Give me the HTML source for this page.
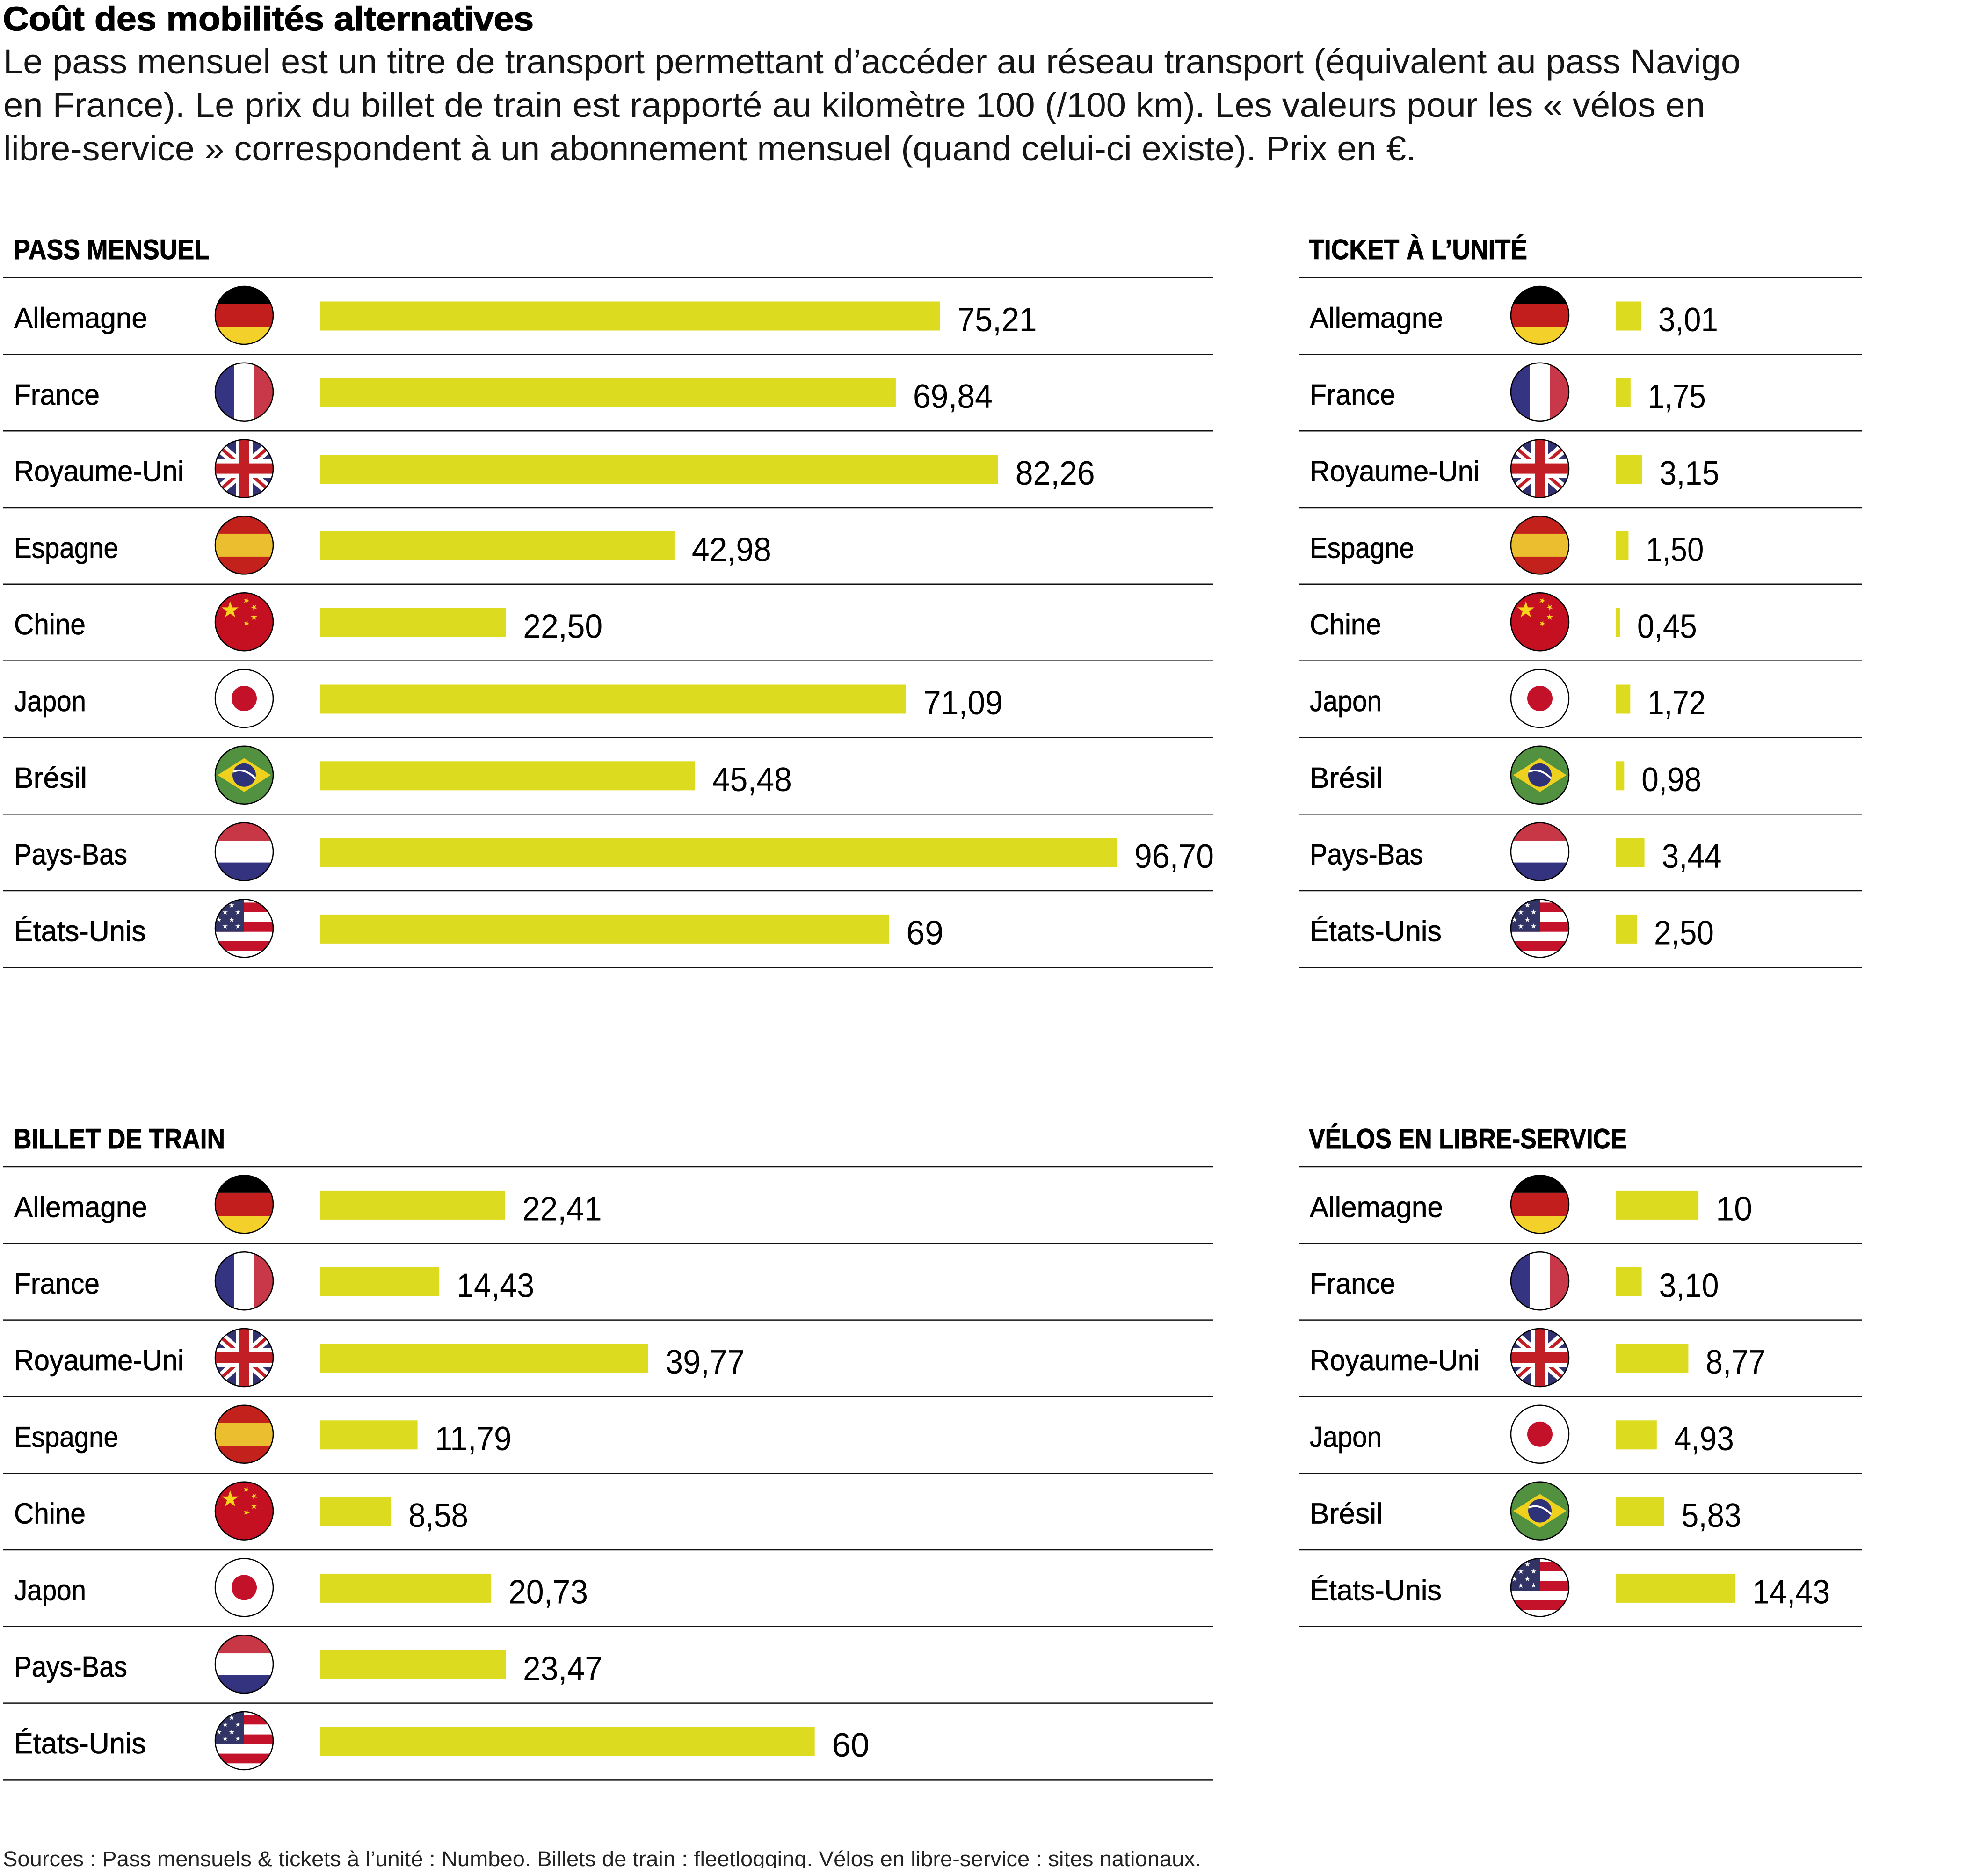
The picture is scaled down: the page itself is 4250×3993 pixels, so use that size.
<!DOCTYPE html>
<html lang="fr">
<head>
<meta charset="utf-8">
<title>Coût des mobilités alternatives</title>
<style>
html,body{margin:0;padding:0;background:#fff;}
svg{display:block;}
.l{font-family:"Liberation Sans",sans-serif;font-size:62px;fill:#000;stroke:#000;stroke-width:0.8;}
.v{font-family:"Liberation Sans",sans-serif;font-size:72px;fill:#000;}
.h{font-family:"Liberation Sans",sans-serif;font-size:60px;font-weight:bold;fill:#000;stroke:#000;stroke-width:1;}
.t{font-family:"Liberation Sans",sans-serif;font-size:72px;font-weight:bold;fill:#000;stroke:#000;stroke-width:1.5;}
.s{font-family:"Liberation Sans",sans-serif;font-size:74px;fill:#151515;}
.src{font-family:"Liberation Sans",sans-serif;font-size:45px;fill:#222;}
.b{fill:#dcdb1f;}
.ln{stroke:#111;stroke-width:2.5;}
</style>
</head>
<body>
<svg xmlns="http://www.w3.org/2000/svg" width="4250" height="3993" viewBox="0 0 4250 3993">
<defs>
  <clipPath id="cc"><circle cx="0" cy="0" r="62"/></clipPath>
  <path id="st" d="M0,-1L0.2245,-0.309L0.951,-0.309L0.363,0.118L0.588,0.809L0,0.382L-0.588,0.809L-0.363,0.118L-0.951,-0.309L-0.2245,-0.309Z"/>
  <g id="de">
    <g clip-path="url(#cc)">
      <rect x="-70" y="-70" width="140" height="45.5" fill="#000"/>
      <rect x="-70" y="-24.5" width="140" height="50" fill="#c21e1d"/>
      <rect x="-70" y="25.5" width="140" height="45" fill="#f4d12a"/>
    </g>
    <circle r="62" fill="none" stroke="#000" stroke-width="2.5"/>
  </g>
  <g id="fr">
    <g clip-path="url(#cc)">
      <rect x="-70" y="-70" width="48" height="140" fill="#343483"/>
      <rect x="-22" y="-70" width="44" height="140" fill="#fff"/>
      <rect x="22" y="-70" width="48" height="140" fill="#c83848"/>
    </g>
    <circle r="62" fill="none" stroke="#000" stroke-width="2.5"/>
  </g>
  <g id="uk">
    <g clip-path="url(#cc)">
      <rect x="-70" y="-70" width="140" height="140" fill="#313171"/>
      <path d="M-75,-66 L75,66 M75,-66 L-75,66" stroke="#fff" stroke-width="22"/>
      <path d="M-75,-66 L75,66 M75,-66 L-75,66" stroke="#c21e25" stroke-width="7"/>
      <rect x="-18" y="-70" width="36" height="140" fill="#fff"/>
      <rect x="-70" y="-20" width="140" height="40" fill="#fff"/>
      <rect x="-10" y="-70" width="20" height="140" fill="#c21e25"/>
      <rect x="-70" y="-11" width="140" height="22" fill="#c21e25"/>
    </g>
    <circle r="62" fill="none" stroke="#000" stroke-width="2.5"/>
  </g>
  <g id="es">
    <g clip-path="url(#cc)">
      <rect x="-70" y="-70" width="140" height="140" fill="#c3211c"/>
      <rect x="-70" y="-24.5" width="140" height="49" fill="#ebbe30"/>
    </g>
    <circle r="62" fill="none" stroke="#000" stroke-width="2.5"/>
  </g>
  <g id="cn">
    <circle r="62" fill="#c41020"/>
    <use href="#st" transform="translate(-30,-25) scale(19)" fill="#f8d41a"/>
    <use href="#st" transform="translate(5,-45) rotate(20) scale(7)" fill="#f8d41a"/>
    <use href="#st" transform="translate(21,-31) rotate(45) scale(7)" fill="#f8d41a"/>
    <use href="#st" transform="translate(21,-10) scale(7)" fill="#f8d41a"/>
    <use href="#st" transform="translate(5,4) rotate(20) scale(7)" fill="#f8d41a"/>
    <circle r="62" fill="none" stroke="#000" stroke-width="2.5"/>
  </g>
  <g id="jp">
    <circle r="62" fill="#fff"/>
    <circle r="27" fill="#c4112a"/>
    <circle r="62" fill="none" stroke="#000" stroke-width="2.5"/>
  </g>
  <g id="br">
    <circle r="62" fill="#51913f"/>
    <polygon points="-57,0 0,-36 57,0 0,36" fill="#eed11e"/>
    <circle r="25" fill="#2e3379"/>
    <path d="M-24,-7 Q0,-17 24,7" stroke="#fff" stroke-width="4" fill="none"/>
    <circle r="62" fill="none" stroke="#000" stroke-width="2.5"/>
  </g>
  <g id="nl">
    <g clip-path="url(#cc)">
      <rect x="-70" y="-70" width="140" height="47" fill="#c83746"/>
      <rect x="-70" y="-23" width="140" height="46" fill="#fff"/>
      <rect x="-70" y="23" width="140" height="47" fill="#33337f"/>
    </g>
    <circle r="62" fill="none" stroke="#000" stroke-width="2.5"/>
  </g>
  <g id="us">
    <g clip-path="url(#cc)">
      <rect x="-70" y="-70" width="140" height="140" fill="#fff"/>
      <rect x="-70" y="-55" width="140" height="20.3" fill="#c3122a"/>
      <rect x="-70" y="-13.4" width="140" height="20.7" fill="#c3122a"/>
      <rect x="-70" y="27.6" width="140" height="20.7" fill="#c3122a"/>
      <rect x="-70" y="-70" width="70" height="77.3" fill="#323466"/>
      <use href="#st" transform="translate(-26.7,-49.3) scale(6)" fill="#fff"/>
      <use href="#st" transform="translate(-40.7,-34.3) scale(6)" fill="#fff"/>
      <use href="#st" transform="translate(-13.3,-34.3) scale(6)" fill="#fff"/>
      <use href="#st" transform="translate(-54,-18.3) scale(6)" fill="#fff"/>
      <use href="#st" transform="translate(-26.7,-18.3) scale(6)" fill="#fff"/>
      <use href="#st" transform="translate(-40.7,-4.3) scale(6)" fill="#fff"/>
      <use href="#st" transform="translate(-13.3,-4.3) scale(6)" fill="#fff"/>
    </g>
    <circle r="62" fill="none" stroke="#000" stroke-width="2.5"/>
  </g>
</defs>

<rect x="0" y="0" width="4250" height="3993" fill="#fff"/>

<!-- Title & subtitle -->
<text class="t" x="6" y="65" textLength="1135" lengthAdjust="spacingAndGlyphs">Coût des mobilités alternatives</text>
<text class="s" x="7" y="157" textLength="3714" lengthAdjust="spacingAndGlyphs">Le pass mensuel est un titre de transport permettant d’accéder au réseau transport (équivalent au pass Navigo</text>
<text class="s" x="7" y="250" textLength="3638" lengthAdjust="spacingAndGlyphs">en France). Le prix du billet de train est rapporté au kilomètre 100 (/100 km). Les valeurs pour les « vélos en</text>
<text class="s" x="7" y="343" textLength="3020" lengthAdjust="spacingAndGlyphs">libre-service » correspondent à un abonnement mensuel (quand celui-ci existe). Prix en €.</text>

<!-- Section headers -->
<text class="h" x="29" y="554" textLength="419" lengthAdjust="spacingAndGlyphs">PASS MENSUEL</text>
<text class="h" x="2798" y="554" textLength="467" lengthAdjust="spacingAndGlyphs">TICKET À L’UNITÉ</text>
<text class="h" x="29" y="2455" textLength="452" lengthAdjust="spacingAndGlyphs">BILLET DE TRAIN</text>
<text class="h" x="2798" y="2455" textLength="680" lengthAdjust="spacingAndGlyphs">VÉLOS EN LIBRE-SERVICE</text>

<!-- Lines -->
<g class="ln">
<line x1="6" x2="2593" y1="593.6" y2="593.6"/>
<line x1="6" x2="2593" y1="757.4" y2="757.4"/>
<line x1="6" x2="2593" y1="921.2" y2="921.2"/>
<line x1="6" x2="2593" y1="1085" y2="1085"/>
<line x1="6" x2="2593" y1="1248.8" y2="1248.8"/>
<line x1="6" x2="2593" y1="1412.6" y2="1412.6"/>
<line x1="6" x2="2593" y1="1576.4" y2="1576.4"/>
<line x1="6" x2="2593" y1="1740.2" y2="1740.2"/>
<line x1="6" x2="2593" y1="1904" y2="1904"/>
<line x1="6" x2="2593" y1="2067.8" y2="2067.8"/>
<line x1="2776" x2="3980" y1="593.6" y2="593.6"/>
<line x1="2776" x2="3980" y1="757.4" y2="757.4"/>
<line x1="2776" x2="3980" y1="921.2" y2="921.2"/>
<line x1="2776" x2="3980" y1="1085" y2="1085"/>
<line x1="2776" x2="3980" y1="1248.8" y2="1248.8"/>
<line x1="2776" x2="3980" y1="1412.6" y2="1412.6"/>
<line x1="2776" x2="3980" y1="1576.4" y2="1576.4"/>
<line x1="2776" x2="3980" y1="1740.2" y2="1740.2"/>
<line x1="2776" x2="3980" y1="1904" y2="1904"/>
<line x1="2776" x2="3980" y1="2067.8" y2="2067.8"/>
<line x1="6" x2="2593" y1="2494" y2="2494"/>
<line x1="6" x2="2593" y1="2657.8" y2="2657.8"/>
<line x1="6" x2="2593" y1="2821.6" y2="2821.6"/>
<line x1="6" x2="2593" y1="2985.4" y2="2985.4"/>
<line x1="6" x2="2593" y1="3149.2" y2="3149.2"/>
<line x1="6" x2="2593" y1="3313" y2="3313"/>
<line x1="6" x2="2593" y1="3476.8" y2="3476.8"/>
<line x1="6" x2="2593" y1="3640.6" y2="3640.6"/>
<line x1="6" x2="2593" y1="3804.4" y2="3804.4"/>
<line x1="2776" x2="3980" y1="2494" y2="2494"/>
<line x1="2776" x2="3980" y1="2657.8" y2="2657.8"/>
<line x1="2776" x2="3980" y1="2821.6" y2="2821.6"/>
<line x1="2776" x2="3980" y1="2985.4" y2="2985.4"/>
<line x1="2776" x2="3980" y1="3149.2" y2="3149.2"/>
<line x1="2776" x2="3980" y1="3313" y2="3313"/>
<line x1="2776" x2="3980" y1="3476.8" y2="3476.8"/>
</g>

<!-- PASS MENSUEL -->
<g transform="translate(0,675.5)"><text class="l" x="30" y="25.5" textLength="285" lengthAdjust="spacingAndGlyphs">Allemagne</text><use href="#de" x="522" y="-1.5"/><rect class="b" x="685" y="-31" width="1324.5" height="62"/><text class="v" x="2046.5" y="32.7" textLength="170" lengthAdjust="spacingAndGlyphs">75,21</text></g>
<g transform="translate(0,839.3)"><text class="l" x="30" y="25.5" textLength="183" lengthAdjust="spacingAndGlyphs">France</text><use href="#fr" x="522" y="-1.5"/><rect class="b" x="685" y="-31" width="1229.9" height="62"/><text class="v" x="1951.9" y="32.7" textLength="170" lengthAdjust="spacingAndGlyphs">69,84</text></g>
<g transform="translate(0,1003.1)"><text class="l" x="30" y="25.5" textLength="363" lengthAdjust="spacingAndGlyphs">Royaume-Uni</text><use href="#uk" x="522" y="-1.5"/><rect class="b" x="685" y="-31" width="1448.7" height="62"/><text class="v" x="2170.7" y="32.7" textLength="170" lengthAdjust="spacingAndGlyphs">82,26</text></g>
<g transform="translate(0,1166.9)"><text class="l" x="30" y="25.5" textLength="223" lengthAdjust="spacingAndGlyphs">Espagne</text><use href="#es" x="522" y="-1.5"/><rect class="b" x="685" y="-31" width="756.9" height="62"/><text class="v" x="1478.9" y="32.7" textLength="170" lengthAdjust="spacingAndGlyphs">42,98</text></g>
<g transform="translate(0,1330.7)"><text class="l" x="30" y="25.5" textLength="153" lengthAdjust="spacingAndGlyphs">Chine</text><use href="#cn" x="522" y="-1.5"/><rect class="b" x="685" y="-31" width="396.2" height="62"/><text class="v" x="1118.2" y="32.7" textLength="170" lengthAdjust="spacingAndGlyphs">22,50</text></g>
<g transform="translate(0,1494.5)"><text class="l" x="30" y="25.5" textLength="154" lengthAdjust="spacingAndGlyphs">Japon</text><use href="#jp" x="522" y="-1.5"/><rect class="b" x="685" y="-31" width="1251.9" height="62"/><text class="v" x="1973.9" y="32.7" textLength="170" lengthAdjust="spacingAndGlyphs">71,09</text></g>
<g transform="translate(0,1658.3)"><text class="l" x="30" y="25.5" textLength="156" lengthAdjust="spacingAndGlyphs">Brésil</text><use href="#br" x="522" y="-1.5"/><rect class="b" x="685" y="-31" width="800.9" height="62"/><text class="v" x="1522.9" y="32.7" textLength="170" lengthAdjust="spacingAndGlyphs">45,48</text></g>
<g transform="translate(0,1822.1)"><text class="l" x="30" y="25.5" textLength="242" lengthAdjust="spacingAndGlyphs">Pays-Bas</text><use href="#nl" x="522" y="-1.5"/><rect class="b" x="685" y="-31" width="1703" height="62"/><text class="v" x="2425" y="32.7" textLength="170" lengthAdjust="spacingAndGlyphs">96,70</text></g>
<g transform="translate(0,1985.9)"><text class="l" x="30" y="25.5" textLength="282" lengthAdjust="spacingAndGlyphs">États-Unis</text><use href="#us" x="522" y="-1.5"/><rect class="b" x="685" y="-31" width="1215.2" height="62"/><text class="v" x="1937.2" y="32.7" textLength="80" lengthAdjust="spacingAndGlyphs">69</text></g>

<!-- TICKET A L'UNITE -->
<g transform="translate(0,675.5)"><text class="l" x="2800" y="25.5" textLength="285" lengthAdjust="spacingAndGlyphs">Allemagne</text><use href="#de" x="3292" y="-1.5"/><rect class="b" x="3455" y="-31" width="53" height="62"/><text class="v" x="3545" y="32.7" textLength="128" lengthAdjust="spacingAndGlyphs">3,01</text></g>
<g transform="translate(0,839.3)"><text class="l" x="2800" y="25.5" textLength="183" lengthAdjust="spacingAndGlyphs">France</text><use href="#fr" x="3292" y="-1.5"/><rect class="b" x="3455" y="-31" width="30.8" height="62"/><text class="v" x="3522.8" y="32.7" textLength="124" lengthAdjust="spacingAndGlyphs">1,75</text></g>
<g transform="translate(0,1003.1)"><text class="l" x="2800" y="25.5" textLength="363" lengthAdjust="spacingAndGlyphs">Royaume-Uni</text><use href="#uk" x="3292" y="-1.5"/><rect class="b" x="3455" y="-31" width="55.5" height="62"/><text class="v" x="3547.5" y="32.7" textLength="128" lengthAdjust="spacingAndGlyphs">3,15</text></g>
<g transform="translate(0,1166.9)"><text class="l" x="2800" y="25.5" textLength="223" lengthAdjust="spacingAndGlyphs">Espagne</text><use href="#es" x="3292" y="-1.5"/><rect class="b" x="3455" y="-31" width="26.4" height="62"/><text class="v" x="3518.4" y="32.7" textLength="124" lengthAdjust="spacingAndGlyphs">1,50</text></g>
<g transform="translate(0,1330.7)"><text class="l" x="2800" y="25.5" textLength="153" lengthAdjust="spacingAndGlyphs">Chine</text><use href="#cn" x="3292" y="-1.5"/><rect class="b" x="3455" y="-31" width="7.9" height="62"/><text class="v" x="3499.9" y="32.7" textLength="128" lengthAdjust="spacingAndGlyphs">0,45</text></g>
<g transform="translate(0,1494.5)"><text class="l" x="2800" y="25.5" textLength="154" lengthAdjust="spacingAndGlyphs">Japon</text><use href="#jp" x="3292" y="-1.5"/><rect class="b" x="3455" y="-31" width="30.3" height="62"/><text class="v" x="3522.3" y="32.7" textLength="124" lengthAdjust="spacingAndGlyphs">1,72</text></g>
<g transform="translate(0,1658.3)"><text class="l" x="2800" y="25.5" textLength="156" lengthAdjust="spacingAndGlyphs">Brésil</text><use href="#br" x="3292" y="-1.5"/><rect class="b" x="3455" y="-31" width="17.3" height="62"/><text class="v" x="3509.3" y="32.7" textLength="128" lengthAdjust="spacingAndGlyphs">0,98</text></g>
<g transform="translate(0,1822.1)"><text class="l" x="2800" y="25.5" textLength="242" lengthAdjust="spacingAndGlyphs">Pays-Bas</text><use href="#nl" x="3292" y="-1.5"/><rect class="b" x="3455" y="-31" width="60.6" height="62"/><text class="v" x="3552.6" y="32.7" textLength="128" lengthAdjust="spacingAndGlyphs">3,44</text></g>
<g transform="translate(0,1985.9)"><text class="l" x="2800" y="25.5" textLength="282" lengthAdjust="spacingAndGlyphs">États-Unis</text><use href="#us" x="3292" y="-1.5"/><rect class="b" x="3455" y="-31" width="44" height="62"/><text class="v" x="3536" y="32.7" textLength="128" lengthAdjust="spacingAndGlyphs">2,50</text></g>

<!-- BILLET DE TRAIN -->
<g transform="translate(0,2575.9)"><text class="l" x="30" y="25.5" textLength="285" lengthAdjust="spacingAndGlyphs">Allemagne</text><use href="#de" x="522" y="-1.5"/><rect class="b" x="685" y="-31" width="394.7" height="62"/><text class="v" x="1116.7" y="32.7" textLength="170" lengthAdjust="spacingAndGlyphs">22,41</text></g>
<g transform="translate(0,2739.7)"><text class="l" x="30" y="25.5" textLength="183" lengthAdjust="spacingAndGlyphs">France</text><use href="#fr" x="522" y="-1.5"/><rect class="b" x="685" y="-31" width="254.1" height="62"/><text class="v" x="976.1" y="32.7" textLength="166" lengthAdjust="spacingAndGlyphs">14,43</text></g>
<g transform="translate(0,2903.5)"><text class="l" x="30" y="25.5" textLength="363" lengthAdjust="spacingAndGlyphs">Royaume-Uni</text><use href="#uk" x="522" y="-1.5"/><rect class="b" x="685" y="-31" width="700.4" height="62"/><text class="v" x="1422.4" y="32.7" textLength="170" lengthAdjust="spacingAndGlyphs">39,77</text></g>
<g transform="translate(0,3067.3)"><text class="l" x="30" y="25.5" textLength="223" lengthAdjust="spacingAndGlyphs">Espagne</text><use href="#es" x="522" y="-1.5"/><rect class="b" x="685" y="-31" width="207.6" height="62"/><text class="v" x="929.6" y="32.7" textLength="164" lengthAdjust="spacingAndGlyphs">11,79</text></g>
<g transform="translate(0,3231.1)"><text class="l" x="30" y="25.5" textLength="153" lengthAdjust="spacingAndGlyphs">Chine</text><use href="#cn" x="522" y="-1.5"/><rect class="b" x="685" y="-31" width="151.1" height="62"/><text class="v" x="873.1" y="32.7" textLength="128" lengthAdjust="spacingAndGlyphs">8,58</text></g>
<g transform="translate(0,3394.9)"><text class="l" x="30" y="25.5" textLength="154" lengthAdjust="spacingAndGlyphs">Japon</text><use href="#jp" x="522" y="-1.5"/><rect class="b" x="685" y="-31" width="365.1" height="62"/><text class="v" x="1087.1" y="32.7" textLength="170" lengthAdjust="spacingAndGlyphs">20,73</text></g>
<g transform="translate(0,3558.7)"><text class="l" x="30" y="25.5" textLength="242" lengthAdjust="spacingAndGlyphs">Pays-Bas</text><use href="#nl" x="522" y="-1.5"/><rect class="b" x="685" y="-31" width="396" height="62"/><text class="v" x="1118" y="32.7" textLength="170" lengthAdjust="spacingAndGlyphs">23,47</text></g>
<g transform="translate(0,3722.5)"><text class="l" x="30" y="25.5" textLength="282" lengthAdjust="spacingAndGlyphs">États-Unis</text><use href="#us" x="522" y="-1.5"/><rect class="b" x="685" y="-31" width="1056.7" height="62"/><text class="v" x="1778.7" y="32.7" textLength="80" lengthAdjust="spacingAndGlyphs">60</text></g>

<!-- VELOS EN LIBRE-SERVICE -->
<g transform="translate(0,2575.9)"><text class="l" x="2800" y="25.5" textLength="285" lengthAdjust="spacingAndGlyphs">Allemagne</text><use href="#de" x="3292" y="-1.5"/><rect class="b" x="3455" y="-31" width="176.1" height="62"/><text class="v" x="3668.1" y="32.7" textLength="78" lengthAdjust="spacingAndGlyphs">10</text></g>
<g transform="translate(0,2739.7)"><text class="l" x="2800" y="25.5" textLength="183" lengthAdjust="spacingAndGlyphs">France</text><use href="#fr" x="3292" y="-1.5"/><rect class="b" x="3455" y="-31" width="54.6" height="62"/><text class="v" x="3546.6" y="32.7" textLength="128" lengthAdjust="spacingAndGlyphs">3,10</text></g>
<g transform="translate(0,2903.5)"><text class="l" x="2800" y="25.5" textLength="363" lengthAdjust="spacingAndGlyphs">Royaume-Uni</text><use href="#uk" x="3292" y="-1.5"/><rect class="b" x="3455" y="-31" width="154.4" height="62"/><text class="v" x="3646.4" y="32.7" textLength="128" lengthAdjust="spacingAndGlyphs">8,77</text></g>
<g transform="translate(0,3067.3)"><text class="l" x="2800" y="25.5" textLength="154" lengthAdjust="spacingAndGlyphs">Japon</text><use href="#jp" x="3292" y="-1.5"/><rect class="b" x="3455" y="-31" width="86.8" height="62"/><text class="v" x="3578.8" y="32.7" textLength="128" lengthAdjust="spacingAndGlyphs">4,93</text></g>
<g transform="translate(0,3231.1)"><text class="l" x="2800" y="25.5" textLength="156" lengthAdjust="spacingAndGlyphs">Brésil</text><use href="#br" x="3292" y="-1.5"/><rect class="b" x="3455" y="-31" width="102.7" height="62"/><text class="v" x="3594.7" y="32.7" textLength="128" lengthAdjust="spacingAndGlyphs">5,83</text></g>
<g transform="translate(0,3394.9)"><text class="l" x="2800" y="25.5" textLength="282" lengthAdjust="spacingAndGlyphs">États-Unis</text><use href="#us" x="3292" y="-1.5"/><rect class="b" x="3455" y="-31" width="254.1" height="62"/><text class="v" x="3746.1" y="32.7" textLength="166" lengthAdjust="spacingAndGlyphs">14,43</text></g>

<!-- Sources -->
<text class="src" x="6" y="3989" textLength="2562" lengthAdjust="spacingAndGlyphs">Sources : Pass mensuels &amp; tickets à l’unité : Numbeo. Billets de train : fleetlogging. Vélos en libre-service : sites nationaux.</text>
</svg>
</body>
</html>
